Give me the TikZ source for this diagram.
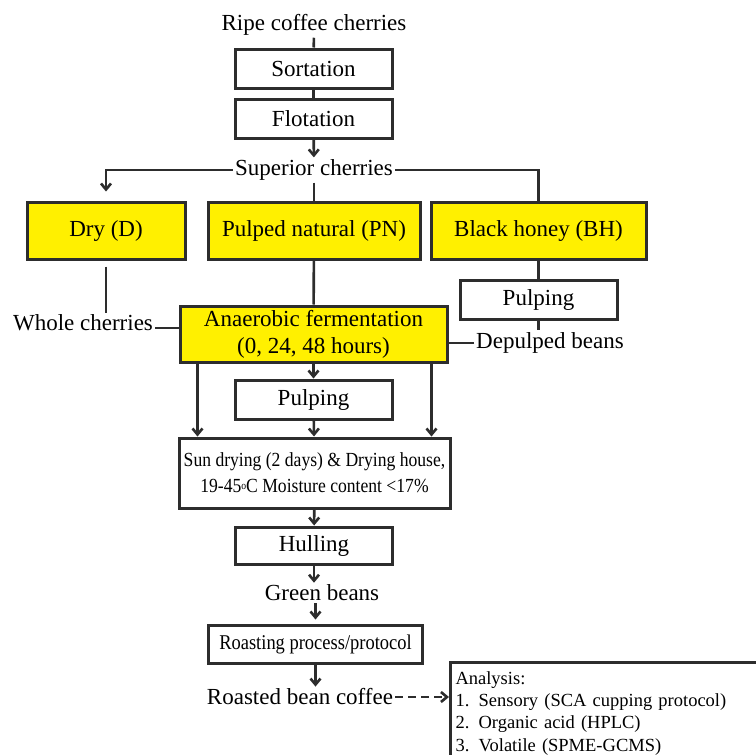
\documentclass[tikz,border=0pt]{standalone}
\usepackage{fontspec}
\setmainfont{Liberation Serif}
\newfontfamily\narrowfont[FakeStretch=0.88]{Liberation Serif}
\usepackage{tikz}
\usetikzlibrary{arrows.meta}
\usepackage{xcolor}
\definecolor{ink}{RGB}{45,45,45}
\definecolor{boxyellow}{RGB}{255,240,0}

\begin{document}
\begin{tikzpicture}[x=1pt,y=-1pt,>={Straight Barb[length=6pt,width=10pt]},
  font=\fontsize{23}{27}\selectfont,
  flow/.style={ink,line width=2.6pt},
  lbl/.style={inner sep=2pt},
  box/.style={draw=ink,line width=3pt,fill=white,minimum width=157pt,minimum height=39pt,inner sep=0pt},
  ybox/.style={box,fill=boxyellow,minimum height=57pt},
  small/.style={font=\narrowfont\fontsize{20}{26}\selectfont}]
\useasboundingbox (0,0) rectangle (756,755);
\clip (0,0) rectangle (756,755);
\node[lbl] (ripe) at (314,25) {Ripe coffee cherries};
\node[box] (sort) at (313.5,68.5) {Sortation};
\node[box] (flot) at (313.5,118.5) {Flotation};
\node[lbl] (sup) at (314,170) {Superior cherries};
\node[ybox,minimum width=158pt] (dry) at (106,230.5) {Dry (D)};
\node[ybox,minimum width=212pt] (pn) at (314,230.5) {Pulped natural (PN)};
\node[ybox,minimum width=215pt] (bh) at (538.5,230.5) {Black honey (BH)};
\node[box] (pulpbh) at (538.5,300) {Pulping};
\node[lbl] (whole) at (83,323) {Whole cherries};
\node[ybox,minimum width=267pt,minimum height=56pt,align=center] (anaer) at (313.5,334)
  {Anaerobic fermentation\\(0, 24, 48 hours)};
\node[lbl] (depulp) at (550,343) {Depulped beans};
\node[box] (pulp) at (313.5,399.5) {Pulping};
\node[box,small,minimum width=271pt,minimum height=70pt,align=center] (sun) at (314.5,473)
  {Sun drying (2 days) \& Drying house,\\19-45\raisebox{3pt}{\fontsize{11}{11}\selectfont o}C Moisture content <17\%};
\node[box,minimum height=37pt] (hull) at (314,545.5) {Hulling};
\node[lbl] (green) at (322,593) {Green beans};
\node[box,small,font=\narrowfont\fontsize{21}{26}\selectfont,minimum width=214pt,minimum height=38pt] (roast) at (315.5,644) {Roasting process/protocol};
\node[lbl] (roasted) at (300,697) {Roasted bean coffee};
\node[box,font=\fontsize{18.5}{22.3}\selectfont,anchor=north west,inner xsep=5pt,inner ysep=9pt,
  text width=300pt,align=left] (ana) at (449,661)
  {Analysis:\\1. Sensory (SCA cupping protocol)\\2. Organic acid (HPLC)\\3. Volatile (SPME-GCMS)};

\draw[flow] (ripe) -- (sort);
\draw[flow] (sort) -- (flot);
\draw[flow,->] (flot) -- (sup);
\draw[flow,->,shorten >=9pt] (sup.west) -| (dry.north);
\draw[flow] (sup.east) -| (bh.north);
\draw[flow] (sup.south) -- (pn.north);
\draw[flow,shorten <=6pt] (dry.south) -- (dry.south |- whole.north);
\draw[flow] ([yshift=-5pt]whole.east) -- ([yshift=-5pt]whole.east -| anaer.west);
\draw[flow] (bh) -- (pulpbh);
\draw[flow] (pulpbh) -- (pulpbh.south |- depulp.north);
\draw[flow] (depulp.west) -- (depulp.west -| anaer.east);
\draw[flow] (pn) -- (anaer);
\draw[flow,->] (anaer) -- (pulp);
\draw[flow,->] ([xshift=-116pt]anaer.south) -- ([xshift=-116pt]anaer.south |- sun.north);
\draw[flow,->] ([xshift=118pt]anaer.south) -- ([xshift=118pt]anaer.south |- sun.north);
\draw[flow,->] (pulp) -- (sun);
\draw[flow,->] (sun) -- (hull);
\draw[flow,->] (hull) -- (hull.south |- green.north);
\draw[flow,->,shorten >=4pt] (green.south -| roast.north) -- (roast.north);
\draw[flow,->] (roast) -- (roast.south |- roasted.north);
\draw[flow,->,dashed,dash pattern=on 8pt off 5pt] (roasted.east) -- (roasted.east -| ana.west);
\end{tikzpicture}
\end{document}
